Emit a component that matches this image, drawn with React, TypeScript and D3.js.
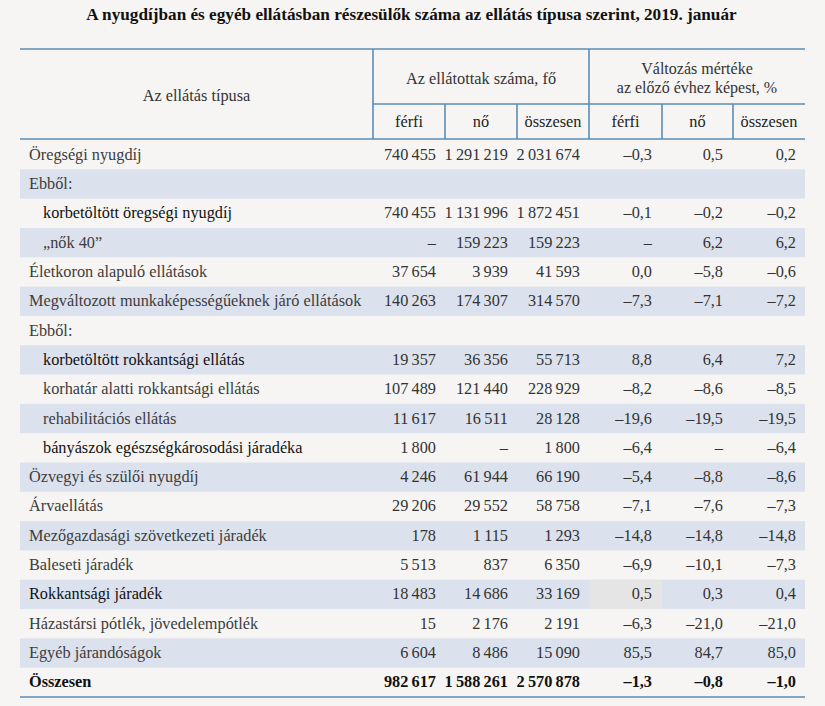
import React from "react";
import * as d3 from "d3";

const title = "A nyugdíjban és egyéb ellátásban részesülők száma az ellátás típusa szerint, 2019. január";
const headerType = "Az ellátás típusa";
const headerCount = "Az ellátottak száma, fő";
const headerChange = ["Változás mértéke", "az előző évhez képest, %"];
const subHeaders = ["férfi", "nő", "összesen", "férfi", "nő", "összesen"];

const categories = [
  "Öregségi nyugdíj",
  "Ebből:",
  "korbetöltött öregségi nyugdíj",
  "„nők 40”",
  "Életkoron alapuló ellátások",
  "Megváltozott munkaképességűeknek járó ellátások",
  "Ebből:",
  "korbetöltött rokkantsági ellátás",
  "korhatár alatti rokkantsági ellátás",
  "rehabilitációs ellátás",
  "bányászok egészségkárosodási járadéka",
  "Özvegyi és szülői nyugdíj",
  "Árvaellátás",
  "Mezőgazdasági szövetkezeti járadék",
  "Baleseti járadék",
  "Rokkantsági járadék",
  "Házastársi pótlék, jövedelempótlék",
  "Egyéb járandóságok",
  "Összesen",
];
const indentLevel = [0, 0, 1, 1, 0, 0, 0, 1, 1, 1, 1, 0, 0, 0, 0, 0, 0, 0, 0];
const darkLabel = [false, false, true, false, false, false, false, true, false, false, true, false, false, false, false, true, false, false, true];
const isTotal = [false, false, false, false, false, false, false, false, false, false, false, false, false, false, false, false, false, false, true];

// null = "–", undefined = empty cell
const men = [740455, undefined, 740455, null, 37654, 140263, undefined, 19357, 107489, 11617, 1800, 4246, 29206, 178, 5513, 18483, 15, 6604, 982617];
const women = [1291219, undefined, 1131996, 159223, 3939, 174307, undefined, 36356, 121440, 16511, null, 61944, 29552, 1115, 837, 14686, 2176, 8486, 1588261];
const total = [2031674, undefined, 1872451, 159223, 41593, 314570, undefined, 55713, 228929, 28128, 1800, 66190, 58758, 1293, 6350, 33169, 2191, 15090, 2570878];
const changeMen = [-0.3, undefined, -0.1, null, 0.0, -7.3, undefined, 8.8, -8.2, -19.6, -6.4, -5.4, -7.1, -14.8, -6.9, 0.5, -6.3, 85.5, -1.3];
const changeWomen = [0.5, undefined, -0.2, 6.2, -5.8, -7.1, undefined, 6.4, -8.6, -19.5, null, -8.8, -7.6, -14.8, -10.1, 0.3, -21.0, 84.7, -0.8];
const changeTotal = [0.2, undefined, -0.2, 6.2, -0.6, -7.2, undefined, 7.2, -8.5, -19.5, -6.4, -8.6, -7.3, -14.8, -7.3, 0.4, -21.0, 85.0, -1.0];

const W = 825;
const H = 706;
const FONT = "Liberation Serif, DejaVu Serif, serif";
const LINE = "#5b8db5";
const BG = "#f6f5f3";
const STRIPE = "#dce2ed";
const GRAY_CELL = "#e5e5e5";

const locale = d3.formatLocale({
  decimal: ",",
  thousands: "\u2009",
  grouping: [3],
  currency: ["", ""],
  minus: "–",
});
const fmtInt = locale.format(",d");
const fmtPct = locale.format(".1f");

export default function App() {
  const tableLeft = 20;
  const tableRight = 805;
  const colEdges = [373, 445, 517, 589, 662, 733, 805];
  const yTop = 49;
  const ySub = 104;
  const yHead = 139;
  const yBottom = 697;

  const rows = d3.scaleBand<number>()
    .domain(categories.map((_, i) => i))
    .range([yHead + 1, yBottom]);

  const indentX = d3.scaleOrdinal<number, number>().domain([0, 1]).range([29, 43]);

  const columns = [
    { values: men, fmt: fmtInt, pad: 9 },
    { values: women, fmt: fmtInt, pad: 9 },
    { values: total, fmt: fmtInt, pad: 9 },
    { values: changeMen, fmt: fmtPct, pad: 10 },
    { values: changeWomen, fmt: fmtPct, pad: 10 },
    { values: changeTotal, fmt: fmtPct, pad: 9 },
  ];

  const fs = 16.3;

  return (
    <svg
      width={W}
      height={H}
      style={{ position: "absolute", left: 0, top: 0, display: "block", fontFamily: FONT }}
    >
      <rect x={0} y={0} width={W} height={H} fill={BG} />
      <text x={W / 2 - 1} y={20} textAnchor="middle" fontWeight="bold" fontSize={17.2} fill="#111">
        {title}
      </text>

      {/* stripes */}
      {categories.map((_, i) =>
        i % 2 === 1 ? (
          <rect key={"s" + i} x={tableLeft} y={rows(i)!} width={tableRight - tableLeft} height={rows.bandwidth()} fill={STRIPE} />
        ) : null
      )}
      {/* gray highlighted cell in Rokkantsági járadék row */}
      <rect x={colEdges[3]} y={rows(15)!} width={colEdges[4] - colEdges[3]} height={rows.bandwidth()} fill={GRAY_CELL} />

      {/* header text */}
      <text x={(tableLeft + colEdges[0]) / 2} y={101} textAnchor="middle" fontSize={fs} fill="#333">
        {headerType}
      </text>
      <text x={(colEdges[0] + colEdges[3]) / 2} y={84} textAnchor="middle" fontSize={fs} fill="#333">
        {headerCount}
      </text>
      <text x={(colEdges[3] + colEdges[6]) / 2} y={74} textAnchor="middle" fontSize={16} fill="#333">
        {headerChange[0]}
      </text>
      <text x={(colEdges[3] + colEdges[6]) / 2} y={92.5} textAnchor="middle" fontSize={16} fill="#333">
        {headerChange[1]}
      </text>
      {subHeaders.map((h, j) => (
        <text key={"h" + j} x={(colEdges[j] + colEdges[j + 1]) / 2} y={127} textAnchor="middle" fontSize={fs} fill="#222">
          {h}
        </text>
      ))}

      {/* body */}
      {categories.map((c, i) => {
        const yc = rows(i)! + rows.bandwidth() / 2 + 5;
        const bold = isTotal[i];
        return (
          <g key={"r" + i} fontWeight={bold ? "bold" : "normal"}>
            <text x={indentX(indentLevel[i])} y={yc} fontSize={fs} fill={darkLabel[i] ? "#111" : "#3c3c3c"}>
              {c}
            </text>
            {columns.map((col, j) => {
              const v = col.values[i];
              if (v === undefined) return null;
              const s = v === null ? "–" : col.fmt(v as number);
              return (
                <text key={j} x={colEdges[j + 1] - col.pad} y={yc} textAnchor="end" fontSize={fs} fill={bold ? "#111" : "#333"}>
                  {s}
                </text>
              );
            })}
          </g>
        );
      })}

      {/* lines */}
      <g stroke={LINE} strokeWidth={1.6} fill="none">
        <line x1={tableLeft} x2={tableRight} y1={yTop} y2={yTop} />
        <line x1={tableLeft} x2={tableRight} y1={yHead} y2={yHead} />
        <line x1={colEdges[0]} x2={tableRight} y1={ySub} y2={ySub} />
        <line x1={colEdges[0]} x2={colEdges[0]} y1={yTop} y2={yHead} />
        <line x1={colEdges[3]} x2={colEdges[3]} y1={yTop} y2={yHead} />
        {[1, 2, 4, 5].map((k) => (
          <line key={k} x1={colEdges[k]} x2={colEdges[k]} y1={ySub} y2={yHead} />
        ))}
        <line x1={tableLeft} x2={tableRight} y1={yBottom} y2={yBottom} />
      </g>
    </svg>
  );
}
